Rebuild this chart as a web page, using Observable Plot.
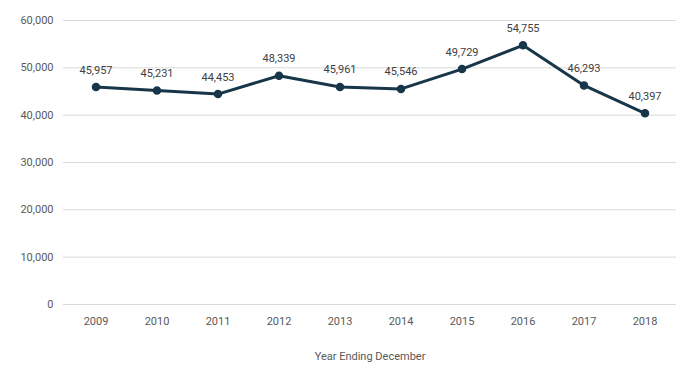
<!DOCTYPE html>
<html>
<head>
<meta charset="utf-8">
<script src="https://cdn.jsdelivr.net/npm/d3@7"></script>
<script src="https://cdn.jsdelivr.net/npm/@observablehq/plot@0.6"></script>
<style>
  html, body { margin: 0; padding: 0; background: #fff; }
  #chart svg { font-family: Roboto, sans-serif; }
</style>
</head>
<body>
<div id="chart"></div>
<script>
const years = ["2009","2010","2011","2012","2013","2014","2015","2016","2017","2018"];
const values = [45957, 45231, 44453, 48339, 45961, 45546, 49729, 54755, 46293, 40397];
const yTicks = [0, 10000, 20000, 30000, 40000, 50000, 60000];
const xTitle = "Year Ending December";

const data = years.map((y, i) => ({year: y, value: values[i]}));
const fmt = d3.format(",");
const lineColor = "#17364a";

const chart = Plot.plot({
  width: 693,
  height: 386,
  marginTop: 20,
  marginBottom: 82,
  marginLeft: 63,
  marginRight: 17,
  style: {fontFamily: "Roboto, sans-serif", fontSize: "11px", color: "#595959"},
  x: {type: "band", domain: years, padding: 0},
  y: {domain: [0, 60000]},
  marks: [
    Plot.gridY(yTicks, {stroke: "#d9d9d9", strokeOpacity: 1, strokeWidth: 1}),
    Plot.axisY(yTicks, {tickSize: 0, tickPadding: 10, tickFormat: fmt, label: null, fill: "#595959", fontSize: 11}),
    Plot.axisX({tickSize: 0, tickPadding: 13, label: xTitle, labelAnchor: "center", labelArrow: "none", labelOffset: 55, fill: "#595959", fontSize: 11}),
    Plot.line(data, {x: "year", y: "value", stroke: lineColor, strokeWidth: 3}),
    Plot.dot(data, {x: "year", y: "value", r: 3.5, fill: lineColor, stroke: lineColor}),
    Plot.text(data, {x: "year", y: "value", text: d => fmt(d.value), dy: -17, fill: "#404040", fontSize: 11})
  ]
});
document.getElementById("chart").append(chart);
</script>
</body>
</html>
